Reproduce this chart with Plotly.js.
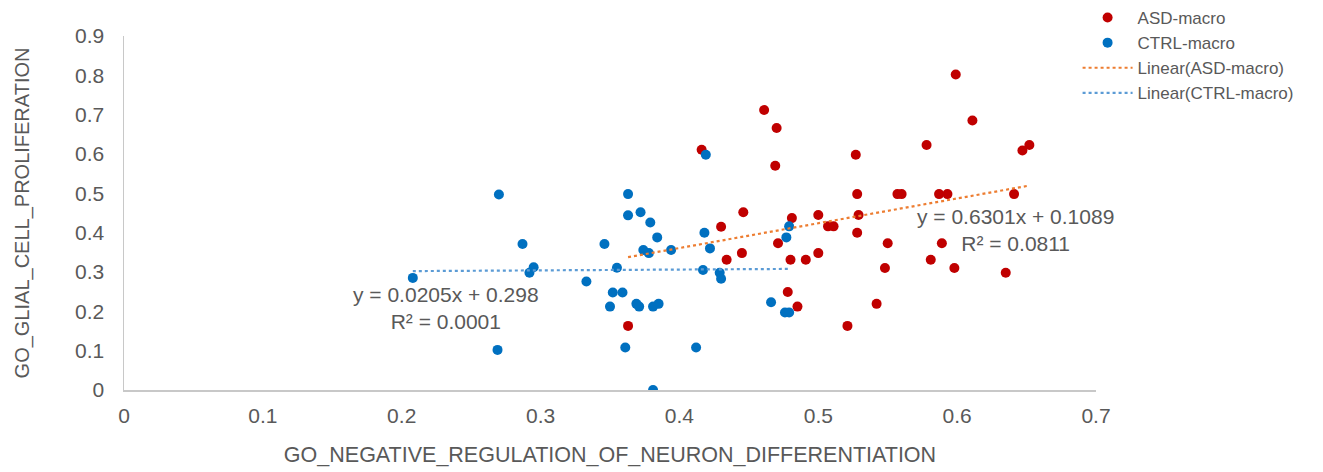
<!DOCTYPE html>
<html>
<head>
<meta charset="utf-8">
<script src="https://cdn.plot.ly/plotly-3.0.1.min.js"></script>
<style>html,body{margin:0;padding:0;background:#fff;}#chart{width:1323px;height:472px;}</style>
</head>
<body>
<div id="chart"></div>
<script>
// ASD-macro
const asdX = [0.363,0.416,0.430,0.446,0.434,0.445,0.461,0.470,0.469,0.471,0.480,0.478,0.485,0.481,
  0.599,0.578,0.527,0.528,0.557,0.560,0.587,0.593,0.500,0.507,0.511,0.529,0.528,0.491,0.500,
  0.550,0.548,0.589,0.581,0.598,0.542,0.521,0.611,0.647,0.652,0.641,0.635];
const asdY = [0.163,0.611,0.415,0.452,0.331,0.348,0.712,0.666,0.570,0.373,0.331,0.249,0.212,0.437,
  0.802,0.623,0.598,0.498,0.498,0.498,0.498,0.498,0.445,0.416,0.416,0.445,0.400,0.331,0.348,
  0.373,0.310,0.373,0.331,0.310,0.219,0.163,0.685,0.609,0.623,0.498,0.298];
// CTRL-macro
const ctrlX = [0.208,0.270,0.287,0.295,0.292,0.333,0.269,0.363,0.363,0.372,0.379,0.384,0.346,0.374,
  0.378,0.394,0.355,0.352,0.359,0.350,0.369,0.371,0.381,0.385,0.361,0.412,0.419,0.418,0.422,
  0.417,0.429,0.430,0.466,0.477,0.479,0.476,0.479,0.381];
const ctrlY = [0.285,0.497,0.371,0.312,0.298,0.276,0.102,0.498,0.444,0.452,0.426,0.388,0.371,0.356,
  0.348,0.356,0.311,0.248,0.248,0.212,0.219,0.212,0.212,0.219,0.108,0.108,0.598,0.400,0.360,
  0.305,0.298,0.283,0.223,0.388,0.416,0.197,0.197,0.000];
// trendline coefficients (as printed on the chart)
const asdSlope = 0.6301, asdIntercept = 0.1089, asdR2 = "0.0811";
const ctrlSlope = 0.0205, ctrlIntercept = 0.298, ctrlR2 = "0.0001";
const xTicks = [0,0.1,0.2,0.3,0.4,0.5,0.6,0.7];
const yTicks = [0,0.1,0.2,0.3,0.4,0.5,0.6,0.7,0.8,0.9];

function trend(xs, m, b){
  const lo = Math.min(...xs), hi = Math.max(...xs);
  return {x:[lo,hi], y:[m*lo+b, m*hi+b]};
}
const ta = trend(asdX, asdSlope, asdIntercept);
const tc = trend(ctrlX, ctrlSlope, ctrlIntercept);

const grey = '#595959';
const FONT = 'Liberation Sans, Arial, sans-serif';

const data = [
  {x: asdX, y: asdY, type:'scatter', mode:'markers', name:'ASD-macro',
   marker:{color:'#C00000', size:10, line:{width:0}}},
  {x: ctrlX, y: ctrlY, type:'scatter', mode:'markers', name:'CTRL-macro',
   marker:{color:'#0070C0', size:10, line:{width:0}}},
  {x: ta.x, y: ta.y, type:'scatter', mode:'lines', name:'Linear(ASD-macro)',
   line:{color:'#ED7D31', width:2.2, dash:'dot'}},
  {x: tc.x, y: tc.y, type:'scatter', mode:'lines', name:'Linear(CTRL-macro)',
   line:{color:'#5B9BD5', width:2.2, dash:'dot'}}
];

const layout = {
  width:1323, height:472,
  margin:{l:124, r:227, t:36, b:82, autoexpand:false},
  paper_bgcolor:'#fff', plot_bgcolor:'#fff',
  font:{family:FONT, color:grey},
  showlegend:true,
  legend:{xref:'container', x:0.8145, xanchor:'left', yref:'container', y:1.0, yanchor:'top',
          font:{size:17, color:grey},
          tracegroupgap:0, itemwidth:50, bgcolor:'rgba(0,0,0,0)'},
  xaxis:{range:[0,0.7], tickvals:xTicks, ticktext:xTicks.map(String), showgrid:false, zeroline:false,
         showline:true, linecolor:'#C8C8C8', linewidth:1.5,
         ticks:'outside', ticklen:6, tickcolor:'rgba(0,0,0,0)',
         tickfont:{size:21, color:grey},
         title:{text:'GO_NEGATIVE_REGULATION_OF_NEURON_DIFFERENTIATION', font:{size:21.5, color:grey}, standoff:21}},
  yaxis:{range:[0,0.9], tickvals:yTicks, ticktext:yTicks.map(String), showgrid:false, zeroline:false,
         showline:true, linecolor:'#C8C8C8', linewidth:1.5,
         ticks:'outside', ticklen:14, tickcolor:'rgba(0,0,0,0)',
         tickfont:{size:21, color:grey},
         title:{text:'GO_GLIAL_CELL_PROLIFERATION', font:{size:20, color:grey}, standoff:40}},
  annotations:[
    {x:0.232, y:0.209, xref:'x', yref:'y', showarrow:false, align:'center',
     text:'y = '+ctrlSlope+'x + '+ctrlIntercept+'<br>R² = '+ctrlR2, font:{size:21, color:grey}},
    {x:0.642, y:0.407, xref:'x', yref:'y', showarrow:false, align:'center',
     text:'y = '+asdSlope+'x + '+asdIntercept+'<br>R² = '+asdR2, font:{size:21, color:grey}}
  ]
};
Plotly.newPlot('chart', data, layout, {displayModeBar:false, staticPlot:true});
</script>
</body>
</html>
